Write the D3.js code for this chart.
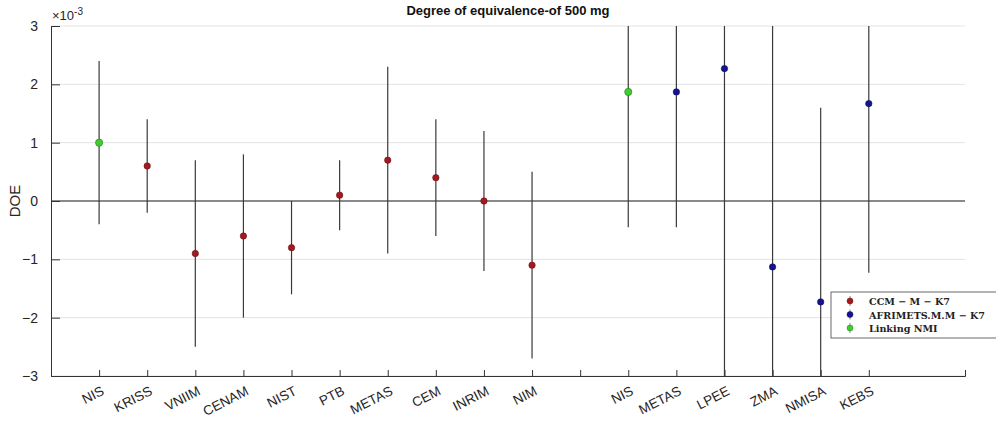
<!DOCTYPE html>
<html>
<head>
<meta charset="utf-8">
<script src="https://cdn.jsdelivr.net/npm/d3@7"></script>
<style>
  body { margin: 0; background: #fff; }
  svg { font-family: "Liberation Sans", Arial, sans-serif; }
</style>
</head>
<body>
<div id="chart"></div>
<script>
// data, values in units of 1e-3
var labels = ["NIS", "KRISS", "VNIIM", "CENAM", "NIST", "PTB", "METAS", "CEM", "INRIM", "NIM",
              "", "NIS", "METAS", "LPEE", "ZMA", "NMISA", "KEBS"];
var doe = [1.0, 0.6, -0.9, -0.6, -0.8, 0.1, 0.7, 0.4, 0.0, -1.1,
           null, 1.87, 1.87, 2.27, -1.13, -1.73, 1.67];
var unc = [1.4, 0.8, 1.6, 1.4, 0.8, 0.6, 1.6, 1.0, 1.2, 1.6,
           null, 2.32, 2.32, 5.5, 4.6, 3.33, 2.9];
// 0 = CCM-M-K7, 1 = AFRIMETS, 2 = linking NMI
var group = [2, 0, 0, 0, 0, 0, 0, 0, 0, 0, null, 2, 1, 1, 1, 1, 1];
var yTicks = [-3, -2, -1, 0, 1, 2, 3];
var legendNames = ["CCM \u2212 M \u2212 K7", "AFRIMETS.M.M \u2212 K7", "Linking NMI"];
var colors = ["#a3191f", "#141491", "#3fce2f"];
var strokes = ["#6a1014", "#0c0c60", "#1f7a17"];

var W = 996, H = 423;
var margin = {top: 26, right: 31, bottom: 47, left: 51};

var svg = d3.select("#chart").append("svg")
    .attr("width", W)
    .attr("height", H);

var x = d3.scaleLinear().domain([0, 19]).range([margin.left, W - margin.right]);
var y = d3.scaleLinear().domain([-3, 3]).range([H - margin.bottom, margin.top]);

svg.append("clipPath").attr("id", "plot")
  .append("rect")
    .attr("x", margin.left)
    .attr("y", margin.top)
    .attr("width", W - margin.left - margin.right)
    .attr("height", H - margin.top - margin.bottom);

// grid
svg.append("g").selectAll("line")
    .data(yTicks)
  .enter().append("line")
    .attr("x1", margin.left).attr("x2", W - margin.right)
    .attr("y1", function(d) { return y(d); })
    .attr("y2", function(d) { return y(d); })
    .attr("stroke", "#e3e3e3");

// zero line
svg.append("line")
    .attr("x1", margin.left).attr("x2", W - margin.right)
    .attr("y1", y(0)).attr("y2", y(0))
    .attr("stroke", "#222").attr("stroke-width", 1);

// axes
var xAxis = svg.append("g")
    .attr("transform", "translate(0," + y(-3) + ")")
    .call(d3.axisBottom(x).tickValues(d3.range(1, 18)).tickSize(-6).tickFormat(""));
xAxis.select(".domain").attr("stroke", "#333");
xAxis.selectAll(".tick line").attr("stroke", "#333");

xAxis.selectAll(".lbl")
    .data(labels)
  .enter().append("text")
    .attr("class", "lbl")
    .attr("transform", function(d, i) {
      return "translate(" + (x(i + 1) + 6) + ",18) rotate(-27)";
    })
    .attr("text-anchor", "end")
    .attr("font-size", 13.5)
    .attr("fill", "#262626")
    .text(function(d) { return d; });

var yAxis = svg.append("g")
    .attr("transform", "translate(" + margin.left + ",0)")
    .call(d3.axisLeft(y).tickValues(yTicks).tickSize(-9).tickPadding(13).tickFormat(d3.format("d")));
yAxis.select(".domain").attr("stroke", "#333");
yAxis.selectAll(".tick line").attr("stroke", "#333");
yAxis.selectAll("text").attr("font-size", 14).attr("fill", "#262626")
    .attr("font-family", "Liberation Sans, Arial, sans-serif");

// exponent
var ex = svg.append("text")
    .attr("x", margin.left + 1).attr("y", 20)
    .attr("font-size", 13).attr("fill", "#262626");
ex.append("tspan").text("\u00d710");
ex.append("tspan").attr("dy", -5).attr("font-size", 10).text("-3");

// y label
svg.append("text")
    .attr("transform", "translate(20," + y(0) + ") rotate(-90)")
    .attr("text-anchor", "middle")
    .attr("font-size", 15)
    .attr("fill", "#262626")
    .text("DOE");

// title
svg.append("text")
    .attr("x", (margin.left + W - margin.right) / 2)
    .attr("y", 15)
    .attr("text-anchor", "middle")
    .attr("font-size", 13)
    .attr("font-weight", "bold")
    .attr("fill", "#111")
    .text("Degree of equivalence-of 500 mg");

// error bars and points
var pts = d3.range(labels.length).filter(function(i) { return doe[i] !== null; });
var plot = svg.append("g").attr("clip-path", "url(#plot)");

plot.selectAll(".err")
    .data(pts)
  .enter().append("line")
    .attr("class", "err")
    .attr("x1", function(i) { return x(i + 1); })
    .attr("x2", function(i) { return x(i + 1); })
    .attr("y1", function(i) { return y(doe[i] + unc[i]); })
    .attr("y2", function(i) { return y(doe[i] - unc[i]); })
    .attr("stroke", "#3a3a3a")
    .attr("stroke-width", 1.2);

plot.selectAll(".pt")
    .data(pts)
  .enter().append("circle")
    .attr("class", "pt")
    .attr("cx", function(i) { return x(i + 1); })
    .attr("cy", function(i) { return y(doe[i]); })
    .attr("r", function(i) { return group[i] === 2 ? 3.6 : 3.2; })
    .attr("fill", function(i) { return colors[group[i]]; })
    .attr("stroke", function(i) { return strokes[group[i]]; })
    .attr("stroke-width", 0.6);

// legend
var lg = svg.append("g").attr("transform", "translate(831,292)");
lg.append("rect")
    .attr("width", 180).attr("height", 46)
    .attr("fill", "#fff").attr("stroke", "#444").attr("stroke-width", 0.8);
var item = lg.selectAll(".item")
    .data(legendNames)
  .enter().append("g")
    .attr("transform", function(d, i) { return "translate(0," + (9 + i * 13.5) + ")"; });
item.append("line")
    .attr("x1", 19).attr("x2", 19).attr("y1", -5).attr("y2", 5)
    .attr("stroke", "#666").attr("stroke-width", 0.8);
item.append("circle")
    .attr("cx", 19).attr("cy", 0).attr("r", 3)
    .attr("fill", function(d, i) { return colors[i]; })
    .attr("stroke", function(d, i) { return strokes[i]; })
    .attr("stroke-width", 0.5);
item.append("text")
    .attr("x", 38).attr("y", 4)
    .attr("font-family", "DejaVu Serif, Liberation Serif, serif")
    .attr("font-weight", "bold")
    .attr("font-size", 9.6)
    .attr("fill", "#222")
    .text(function(d) { return d; });
</script>
</body>
</html>
